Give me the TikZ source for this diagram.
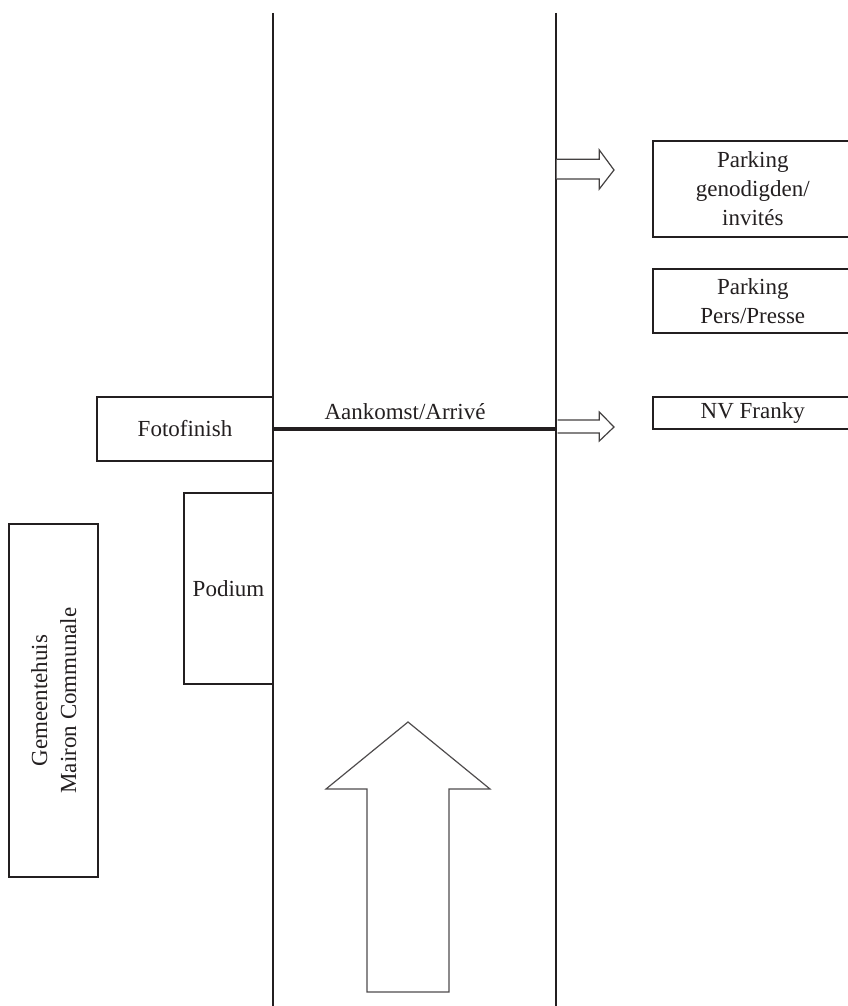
\documentclass[tikz,border=0pt]{standalone}
\usepackage{fontspec}
\setmainfont{Liberation Serif}
\definecolor{ink}{HTML}{231F20}
\begin{document}
\begin{tikzpicture}[x=1pt,y=-1pt,
  every node/.style={font=\fontsize{23}{29}\selectfont, text=ink},
  box/.style={draw=ink, line width=2pt, inner sep=0pt, align=center, fill=white},
  road/.style={draw=ink, line width=2pt},
  finish/.style={draw=ink, line width=4pt},
  hollow/.style={draw=ink!85, line width=1.2pt, fill=white, line join=miter}]
\useasboundingbox (0,0) rectangle (848,1006);
\clip (0,0) rectangle (848,1006);
% road edges
\coordinate (Ltop) at (272.7,13);
\coordinate (Lbot) at (272.7,1006);
\coordinate (Rtop) at (555.7,13);
\coordinate (Rbot) at (555.7,1006);
% boxes
\node[box, minimum width=176pt, minimum height=64pt] (foto) at (185,429) {Fotofinish};
\node[box, minimum width=89pt, minimum height=191pt] (podium) at (228.5,588.5) {Podium};
\node[box, minimum width=88.5pt, minimum height=353pt] (gem) at (53.7,700.5) {};
\node[rotate=90, align=center, inner sep=0pt] (gemtxt) at (gem.center) {Gemeentehuis\\Mairon Communale};
\node[box, minimum width=200pt, minimum height=95.7pt] (park1) at (752.8,188.8) {Parking\\genodigden/\\invités};
\node[box, minimum width=200pt, minimum height=63.4pt] (park2) at (752.8,301) {Parking\\Pers/Presse};
\node[box, minimum width=200pt, minimum height=32.3pt] (nv) at (752.8,412.8) {NV Franky};
% road lines
\draw[road] (Ltop) -- (Lbot);
\draw[road] (Rtop) -- (Rbot);
% finish line
\coordinate (FinL) at (272.7,428.7);
\coordinate (FinR) at (555.7,428.7);
\draw[finish] (FinL) -- (FinR);
\node[inner sep=0pt] (aank) at (405,412) {Aankomst/Arrivé};
% small arrows
\draw[hollow] (556.7,159.3) -- (599.3,159.3) -- (599.3,150) -- (614,170) -- (599.3,189) -- (599.3,179) -- (556.7,179);
\draw[hollow] (557.7,420) -- (599.3,420) -- (599.3,412) -- (614,427) -- (599.3,441) -- (599.3,433) -- (557.7,433);
% big arrow
\draw[hollow, draw=ink!80] (367,992) -- (367,789) -- (326,789) -- (408,722) -- (490,789) -- (449,789) -- (449,992) -- cycle;
\end{tikzpicture}
\end{document}
